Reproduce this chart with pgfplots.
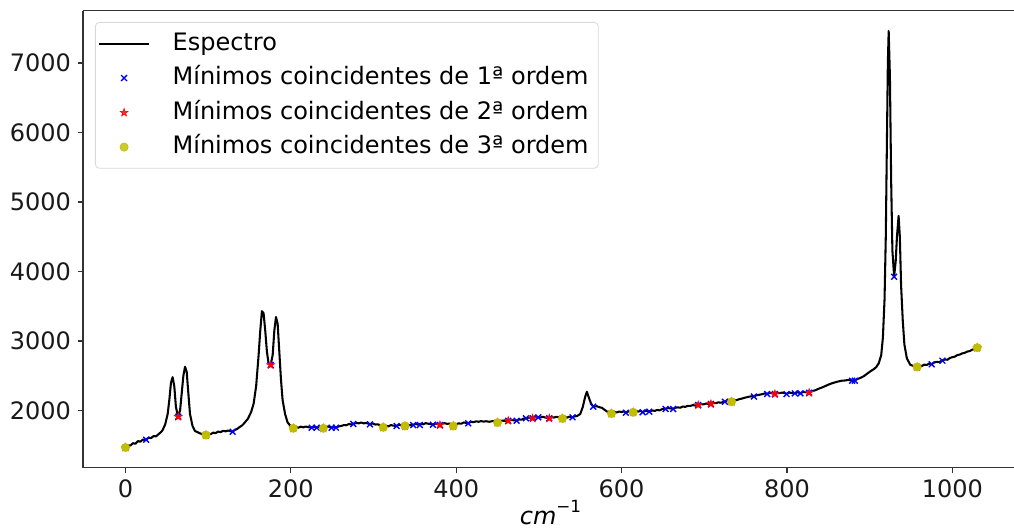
\documentclass[border=0pt]{standalone}
\usepackage{fontspec}
\setmainfont{DejaVu Sans}
\usepackage{pgfplots}
\pgfplotsset{compat=1.18}
\definecolor{myyellow}{rgb}{0.75,0.75,0}
\pgfdeclareplotmark{fstar}{%
  \pgfpathmoveto{\pgfpointpolar{90}{\pgfplotmarksize}}%
  \pgfpathlineto{\pgfpointpolar{126}{0.382\pgfplotmarksize}}%
  \pgfpathlineto{\pgfpointpolar{162}{\pgfplotmarksize}}%
  \pgfpathlineto{\pgfpointpolar{198}{0.382\pgfplotmarksize}}%
  \pgfpathlineto{\pgfpointpolar{234}{\pgfplotmarksize}}%
  \pgfpathlineto{\pgfpointpolar{270}{0.382\pgfplotmarksize}}%
  \pgfpathlineto{\pgfpointpolar{306}{\pgfplotmarksize}}%
  \pgfpathlineto{\pgfpointpolar{342}{0.382\pgfplotmarksize}}%
  \pgfpathlineto{\pgfpointpolar{18}{\pgfplotmarksize}}%
  \pgfpathlineto{\pgfpointpolar{54}{0.382\pgfplotmarksize}}%
  \pgfpathclose
  \pgfusepathqfillstroke}
\begin{document}
\begin{tikzpicture}
\begin{axis}[
  width=467.5pt, height=228.35pt, scale only axis,
  xmin=-51.4, xmax=1079.4, ymin=1180, ymax=7751,
  xtick={0,200,400,600,800,1000},
  ytick={2000,3000,4000,5000,6000,7000},
  axis x line*=bottom, axis y line*=left,
  separate axis lines,
  every outer x axis line/.append style={-},
  every outer y axis line/.append style={-},
  axis line style={black!80, line width=0.55pt},
  tick align=outside, major tick length=2.5pt,
  tick style={black!80, line width=0.55pt},
  /pgf/number format/assume math mode=true,
  /pgf/number format/1000 sep={},
  ticklabel style={font=\fontsize{12}{14}\selectfont, text=black!90},
  xlabel={{\itshape cm}\raisebox{0.5em}{\fontsize{8.4}{10}\selectfont −1}},
  xlabel style={font=\fontsize{12}{14}\selectfont, at={(axis description cs:0.5,0)}, anchor=north, inner sep=0pt, yshift=-16pt},
  legend cell align=left,
  legend style={at={(rel axis cs:0.0128,0.9755)}, anchor=north west,
    draw=black!15, rounded corners=2pt, fill=white, fill opacity=0.8, text opacity=1,
    font=\fontsize{12}{14}\selectfont, inner xsep=1.35pt, inner ysep=2.2pt,
    row sep=0.45pt, column sep=7.75pt,
    nodes={inner sep=2.5pt, inner xsep=3.5pt, text height=9.2pt, text depth=2.6pt}},
  legend image code/.code={\draw[mark repeat=2,mark phase=2,#1] plot coordinates {(-1pt,0pt) (11.5pt,0pt) (24pt,0pt)};},
]
% top spine
\draw[black!80, line width=0.55pt] (rel axis cs:0,1) -- (rel axis cs:1,1);
\addplot[black, line width=1.03pt, no markers, line join=round] coordinates {
(0,1468)(3,1500)(6,1497)(9,1530)(12,1522)(15,1560)(18,1552)(21,1583)(23,1575)(25,1582)(28,1610)(31,1604)
(34,1632)(37,1628)(40,1660)(43,1690)(45,1720)
(48,1800) (51,1950) (53,2150) (55,2400) (57,2480) (59,2350) (61,2050) (63.5,1912) (66,2000) (68,2250)
(70,2500) (72,2630) (74,2560) (76,2250) (78,1950)
(81,1780)(84,1705)(87,1690)(90,1672)(93,1660)(95,1652)(97.3,1649)(100,1665)(103,1660)(106,1682)(109,1675)
(112,1697)(115,1690)(118,1708)(121,1700)(124,1712)(127,1703)(129.6,1697)(132,1718)(135,1735)(138,1762)
(141,1785)(143,1810) (148,1880) (152,1980) (155,2100) (158,2350) (161,2800) (163,3150) (165,3430) (167,3400)
(169,3150) (171,2850) (173,2680) (175.6,2657) (178,2800) (180,3150) (182,3345) (184,3250) (186,2850)
(188,2450) (190,2150) (193,1950) (196,1830)
(200,1770)(202.9,1746)(206,1760)(209,1752)(212,1768)(215,1758)(218,1770)(221,1760)(225,1756)(228,1768)
(231,1755)(234,1766)(237,1760)(239.2,1746)(242,1762)(245,1770)(249,1755)(252,1768)(254.5,1755)(258,1772)
(261,1778)(264,1790)(267,1788)(270,1805)(273,1800)(275.5,1808)(279,1822)(282,1815)(285,1828)(288,1815)
(291,1822)(295.6,1803)(299,1815)(302,1798)(305,1802)(308,1788)(311.7,1760)(315,1778)(318,1772)(321,1790)
(324,1782)(327.9,1779)(331,1795)(334,1785)(338,1779)(341,1796)(344,1788)(348,1793)(351,1808)(354,1795)
(357,1810)(360,1802)(363,1818)(366,1810)(369,1805)(371.8,1798)(375,1812)(378,1805)(380.3,1793)(383,1812)
(386,1818)(389,1808)(392,1812)(396.4,1779)(400,1805)(403,1815)(406,1810)(409,1828)(412,1822)(414.5,1818)
(418,1838)(421,1832)(424,1845)(427,1838)(430,1848)(433,1840)(436,1846)(440,1838)(444,1848)(447,1840)
(450,1829)(453,1848)(456,1855)(459,1850)(462.9,1855)(466,1868)(469,1860)(473,1855)(476,1872)(479,1868)
(482,1885)(484.3,1890)(488,1898)(492.4,1890)(496,1905)(499.2,1904)(502,1900)(505,1910)(508,1898)
(512.5,1890)(515,1905)(518,1898)(521,1910)(524,1902)(528.4,1887)(531,1905)(534,1898)(537,1912)
(540.7,1904)(543,1915)(546,1920)
(550,1950) (553,2050) (556,2200) (558,2270) (560,2200) (563,2100)
(565.7,2057)(570,2062)(573,2048)(576,2040)(580,2005)(584,1972)(587.7,1959)(591,1978)(594,1972)(597,1985)
(600,1978)(603,1988)(605.2,1970)(608,1985)(611,1980)(614,1976)(617,1990)(620,1985)(623,1995)(625.4,1976)
(628,1990)(631,1998)(633.4,1985)(637,2000)(640,1995)(643,2008)(646,2002)(649,2020)(653.2,2024)(656,2035)
(659,2030)(662.4,2024)(665,2040)(668,2045)(671,2040)(674,2058)(677,2052)(680,2068)(683,2065)(686,2078)
(689,2072)(692.6,2081)(696,2092)(699,2088)(702,2100)(705,2095)(708,2096)(711,2108)(714,2105)(717,2118)
(720,2112)(724.9,2129)(728,2140)(733,2129)(736,2142)(739,2150)(742,2162)(745,2170)(748,2182)(751,2190)
(754,2198)(757,2205)(760,2203)(763,2220)(766,2225)(770,2235)(773,2245)(776,2239)(779,2252)(782,2248)
(785.4,2239)(788,2255)(791,2250)(794,2258)(797,2252)(799.5,2239)(803,2258)(806,2252)(809.5,2249)
(813,2262)(816.4,2249)(820,2268)(823,2262)(826.8,2258)(830,2280)(834,2290)(838,2312)(842,2330)(846,2350)
(850,2372)(854,2390)(858,2405)(862,2418)(866,2428)(870,2432)(874,2440)(878.8,2431)(882,2431)(885,2452)
(889,2470)(893,2495)(897,2530)(901,2565)(905,2595)(908,2625)
(911,2680) (914,2800) (916,3050) (918,3600) (919.5,4500) (921,6000) (922,7000) (923,7460)
(924.5,6800) (926,5300) (927.5,4300) (929.6,3930) (931.5,4150) (933,4500) (935,4800) (936.5,4500)
(938,3800) (940,3300) (942,2950) (945,2750) (949,2660) (953,2640)
(957.4,2628)(960,2645)(963,2640)(966,2660)(969,2655)(972,2675)(975,2667)(978,2690)(981,2700)(984,2695)
(988,2719)(991,2735)(994,2730)(997,2755)(1000,2768)(1003,2775)(1006,2798)(1009,2805)(1012,2822)
(1015,2830)(1018,2848)(1021,2855)(1024,2875)(1027,2885)(1030,2906)
};
\addlegendentry{Espectro}
\addplot[only marks, mark=x, mark size=2.06pt, color=blue, line width=0.69pt] coordinates {
(25,1580) (129.6,1695) (225.2,1753) (231.2,1753) (249.3,1753) (254.5,1753) (275.5,1806) (295.6,1801)
(327.9,1777) (348,1791) (356,1791) (371.8,1796) (414.5,1816) (473,1853) (484.3,1888) (499.2,1902)
(540.7,1902) (565.7,2055) (605.2,1968) (625.4,1974) (633.4,1983) (653.2,2022) (662.4,2022) (724.9,2127)
(760,2201) (776,2237) (799.5,2237) (809.5,2247) (816.4,2247) (878.8,2429) (882,2429) (929.6,3925)
(975,2665) (988,2717)
(63.8,1911) (175.6,2655) (380.3,1791) (462.9,1853) (492.4,1888) (512.5,1888) (692.6,2079) (708,2094)
(785.4,2237) (826.8,2256)
(0,1468) (97.3,1647) (202.9,1744) (239.2,1744) (311.7,1758) (338,1777) (396.4,1777) (450,1827)
(528.4,1885) (587.7,1957) (614,1974) (733,2127) (957.4,2626) (1030,2904)
};
\addlegendentry{Mínimos coincidentes de 1ª ordem}
\addplot[only marks, mark=fstar, mark size=2.06pt, color=red, line width=0.3pt] coordinates {
(63.8,1911) (175.6,2655) (380.3,1791) (462.9,1853) (492.4,1888) (512.5,1888) (692.6,2079) (708,2094)
(785.4,2237) (826.8,2256)
(0,1468) (97.3,1647) (202.9,1744) (239.2,1744) (311.7,1758) (338,1777) (396.4,1777) (450,1827)
(528.4,1885) (587.7,1957) (614,1974) (733,2127) (957.4,2626) (1030,2904)
};
\addlegendentry{Mínimos coincidentes de 2ª ordem}
\addplot[only marks, mark=*, mark size=2.06pt, color=myyellow, line width=0.3pt] coordinates {
(0,1468) (97.3,1647) (202.9,1744) (239.2,1744) (311.7,1758) (338,1777) (396.4,1777) (450,1827)
(528.4,1885) (587.7,1957) (614,1974) (733,2127) (957.4,2626) (1030,2904)
};
\addlegendentry{Mínimos coincidentes de 3ª ordem}
\end{axis}
\pgfresetboundingbox
\path[use as bounding box] ([shift={(-41.5pt,-30.75pt)}]current axis.south west) rectangle ([shift={(-2pt,5.4pt)}]current axis.north east);
\end{tikzpicture}
\end{document}
